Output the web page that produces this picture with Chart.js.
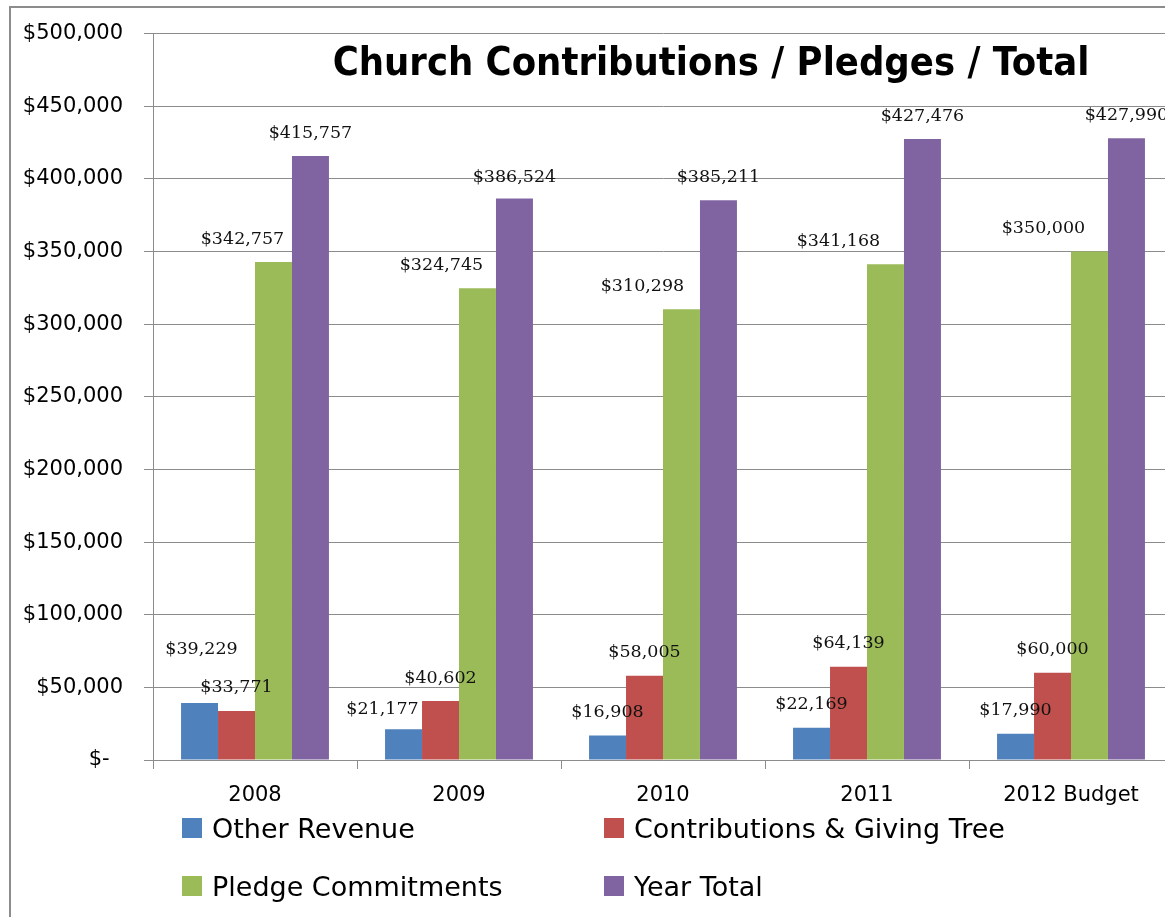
<!DOCTYPE html>
<html>
<head>
<meta charset="utf-8">
<title>Church Contributions / Pledges / Total</title>
<script src="https://cdn.jsdelivr.net/npm/chart.js@4.4.1/dist/chart.umd.min.js"></script>
<style>
  html, body { margin: 0; padding: 0; background: #fff; overflow: hidden; }
  #wrap { position: relative; width: 1165px; height: 917px; overflow: hidden; }
  #frame { position: absolute; left: 9px; top: 6px; width: 1300px; height: 1000px;
           border-left: 2px solid #8c8c8c; border-top: 2px solid #8c8c8c; }
  #chart { position: absolute; left: 0; top: 0; }
  #legend { position: absolute; left: 182px; top: 808px; display: grid;
            grid-template-columns: 422px auto; row-gap: 18px;
            font: 27px "DejaVu Sans", sans-serif; color: #000; }
  .item { display: flex; align-items: center; height: 40px; white-space: nowrap; }
  .box { width: 20px; height: 20px; margin-right: 10px; }
</style>
</head>
<body>
<div id="wrap">
  <div id="frame"></div>
  <canvas id="chart" width="1173" height="830"></canvas>
  <div id="legend"></div>
</div>
<script>
// chart data
const TITLE = 'Church Contributions / Pledges / Total';
const years = ['2008', '2009', '2010', '2011', '2012 Budget'];
const otherRevenue = [39229, 21177, 16908, 22169, 17990];
const contributions = [33771, 40602, 58005, 64139, 60000];
const pledges = [342757, 324745, 310298, 341168, 350000];
const yearTotal = [415757, 386524, 385211, 427476, 427990];
const yTicks = [0, 50000, 100000, 150000, 200000, 250000, 300000, 350000, 400000, 450000, 500000];

// hand placed labels in the original, [dx, dy] per bar
const labelNudge = [
  [[2, -31], [-21, 3], [0, 0], [0, 0], [0, 0]],
  [[0, 0], [0, 0], [0, 0], [0, 0], [0, 0]],
  [[-31, 0], [-36, 0], [-39, 0], [-47, 0], [-46, 0]],
  [[0, 0], [0, 2], [0, 0], [0, 0], [0, 0]]
];

const GRID = '#8c8c8c';

function money(v) {
  if (v === 0) return '$-  ';
  return '$' + v.toLocaleString('en-US');
}

const barLabels = {
  id: 'barLabels',
  afterDatasetsDraw(chart) {
    let ctx = chart.ctx;
    ctx.save();
    ctx.font = '17.5px "DejaVu Serif", serif';
    ctx.fillStyle = '#111';
    ctx.textAlign = 'center';
    ctx.textBaseline = 'middle';
    chart.data.datasets.forEach(function (ds, i) {
      chart.getDatasetMeta(i).data.forEach(function (bar, j) {
        let n = labelNudge[i][j];
        ctx.fillText(money(ds.data[j]), bar.x + n[0], bar.y - 23 + n[1]);
      });
    });
    ctx.restore();
  }
};

const chartTitle = {
  id: 'chartTitle',
  afterDraw(chart) {
    let ctx = chart.ctx;
    ctx.save();
    ctx.font = 'bold 39.5px "Liberation Sans Narrow", "DejaVu Sans Condensed", sans-serif';
    ctx.fillStyle = '#000';
    ctx.textAlign = 'center';
    ctx.textBaseline = 'middle';
    ctx.fillText(TITLE, 711, 65);
    ctx.restore();
  }
};

const colors = ['#4F81BD', '#C0504D', '#9BBB59', '#8064A2'];
const names = ['Other Revenue', 'Contributions & Giving Tree', 'Pledge Commitments', 'Year Total'];
const series = [otherRevenue, contributions, pledges, yearTotal];

const chart = new Chart(document.getElementById('chart'), {
  type: 'bar',
  data: {
    labels: years,
    datasets: series.map(function (s, i) {
      return {
        label: names[i],
        data: s,
        backgroundColor: colors[i],
        borderWidth: 0,
        categoryPercentage: 0.725,
        barPercentage: 1.0
      };
    })
  },
  options: {
    responsive: false,
    animation: false,
    layout: { padding: { top: 33, right: 0, bottom: 0, left: 0 } },
    plugins: { legend: { display: false }, tooltip: { enabled: false }, title: { display: false } },
    scales: {
      x: {
        offset: true,
        grid: { display: true, drawOnChartArea: false, offset: true, tickLength: 9, color: GRID },
        border: { color: GRID, width: 1 },
        ticks: { color: '#000', padding: 14, font: { family: 'DejaVu Sans', size: 21 }, maxRotation: 0 },
        afterFit: function (scale) { scale.height = 70; }
      },
      y: {
        min: 0,
        max: 500000,
        afterBuildTicks: function (scale) { scale.ticks = yTicks.map(function (v) { return { value: v }; }); },
        grid: { color: GRID, tickLength: 9 },
        border: { color: GRID, width: 1 },
        ticks: { color: '#000', padding: 21, font: { family: 'DejaVu Sans', size: 21 }, callback: function (v) { return money(v); } },
        afterFit: function (scale) { scale.width = 153; }
      }
    }
  },
  plugins: [barLabels, chartTitle]
});

// legend in two columns, built from the datasets
let legend = document.getElementById('legend');
chart.data.datasets.forEach(function (ds) {
  let item = document.createElement('div');
  item.className = 'item';
  item.innerHTML = '<span class="box" style="background:' + ds.backgroundColor + '"></span>';
  item.appendChild(document.createTextNode(ds.label));
  legend.appendChild(item);
});
</script>
</body>
</html>
